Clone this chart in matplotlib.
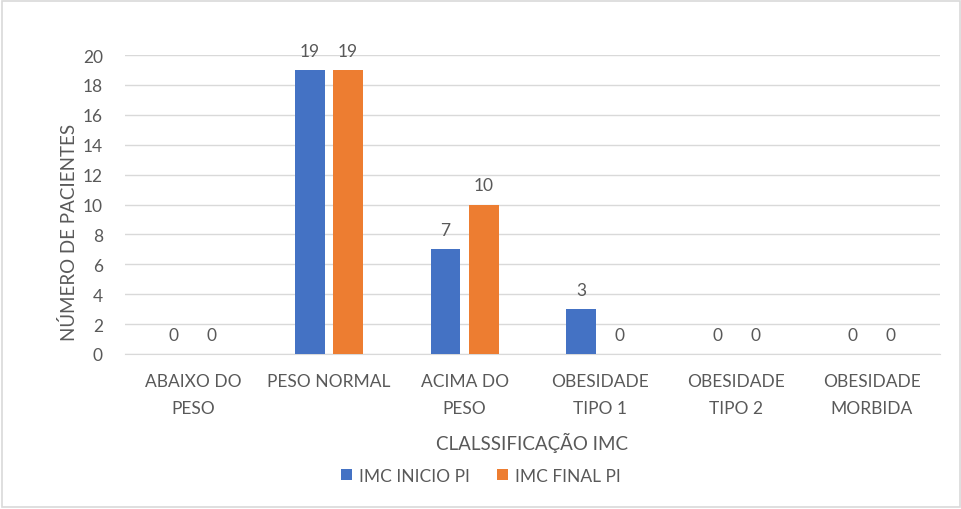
import numpy as np
import matplotlib.pyplot as plt
from matplotlib.patches import Rectangle

# categories and counts
categorias = ['ABAIXO DO\nPESO', 'PESO NORMAL', 'ACIMA DO\nPESO',
              'OBESIDADE\nTIPO 1', 'OBESIDADE\nTIPO 2', 'OBESIDADE\nMORBIDA']
imc_inicio = [0, 19, 7, 3, 0, 0]
imc_final = [0, 19, 10, 0, 0, 0]

plt.rcParams['font.family'] = ['Lato', 'DejaVu Sans']
cinza = '#595959'

fig = plt.figure(figsize=(9.62, 5.10), dpi=100)
ax = fig.add_axes([0.130, 0.304, 0.847, 0.586])

x = np.arange(len(categorias))
barWidth = 0.22
off = 0.14

b1 = ax.bar(x - off, imc_inicio, width=barWidth, color='#4472C4', label='IMC INICIO PI', zorder=3)
b2 = ax.bar(x + off, imc_final, width=barWidth, color='#ED7D31', label='IMC FINAL PI', zorder=3)

# value labels above the bars
for bars in (b1, b2):
    for r in bars:
        h = r.get_height()
        ax.text(r.get_x() + r.get_width() / 2, h + 0.75, '%d' % h,
                ha='center', va='bottom', fontsize=12.5, color=cinza)

ax.set_xlim(-0.5, len(categorias) - 0.5)
ax.set_ylim(0, 20)
ax.set_yticks(range(0, 21, 2))
ax.set_xticks(x)
ax.set_xticklabels(categorias, fontsize=12.5, color=cinza, linespacing=1.8)
ax.tick_params(axis='y', labelsize=12.5, labelcolor=cinza, length=0, pad=16)
ax.tick_params(axis='x', length=0, pad=14)
ax.grid(axis='y', color='#d9d9d9', linewidth=1, zorder=0)
for s in ['top', 'right', 'left']:
    ax.spines[s].set_visible(False)
ax.spines['bottom'].set_color('#d9d9d9')

ax.set_ylabel('NÚMERO DE PACIENTES', fontsize=13.5, color=cinza)
ax.yaxis.set_label_coords(-0.058, 0.41)
ax.set_xlabel('CLALSSIFICAÇÃO IMC', fontsize=13.5, color=cinza)
ax.xaxis.set_label_coords(0.5, -0.262)

leg = fig.legend(handles=[b1, b2], loc='center', bbox_to_anchor=(0.5, 0.065), ncol=2,
                 frameon=False, fontsize=12.5, handlelength=0.6, handleheight=0.6,
                 handletextpad=0.4, columnspacing=1.6)
for t in leg.get_texts():
    t.set_color(cinza)

# light border round the chart
fig.patches.append(Rectangle((0.002, 0.004), 0.996, 0.992, transform=fig.transFigure,
                             fill=False, edgecolor='#d9d9d9', linewidth=1.2))

fig.savefig('out.png', dpi=100)
